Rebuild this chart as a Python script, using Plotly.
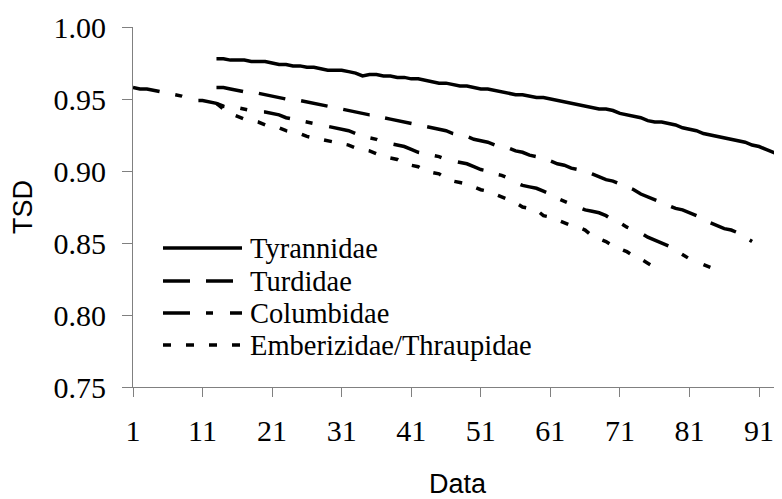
import plotly.graph_objects as go

# ---------------- data ----------------
tyr_x = list(range(13, 95))
tyr_y = [0.978, 0.978, 0.977, 0.977, 0.977, 0.976, 0.976, 0.976, 0.975, 0.974,
         0.974, 0.973, 0.973, 0.972, 0.972, 0.971, 0.970, 0.970, 0.970, 0.969,
         0.968, 0.966, 0.967, 0.967, 0.966, 0.966, 0.965, 0.965, 0.964, 0.964,
         0.963, 0.962, 0.961, 0.961, 0.960, 0.959, 0.959, 0.958, 0.957, 0.957,
         0.956, 0.955, 0.954, 0.953, 0.953, 0.952, 0.951, 0.951, 0.950, 0.949,
         0.948, 0.947, 0.946, 0.945, 0.944, 0.943, 0.943, 0.942, 0.940, 0.939,
         0.938, 0.937, 0.935, 0.934, 0.934, 0.933, 0.932, 0.930, 0.929, 0.928,
         0.926, 0.925, 0.924, 0.923, 0.922, 0.921, 0.920, 0.918, 0.917, 0.915,
         0.913, 0.911]

turd_x = list(range(13, 91))
turd_y = [0.958, 0.958, 0.957, 0.956, 0.955, 0.955, 0.954, 0.953, 0.952, 0.951,
          0.950, 0.950, 0.949, 0.948, 0.947, 0.946, 0.945, 0.944, 0.943, 0.942,
          0.941, 0.940, 0.939, 0.939, 0.937, 0.936, 0.935, 0.934, 0.933, 0.932,
          0.931, 0.930, 0.929, 0.928, 0.926, 0.925, 0.924, 0.922, 0.921, 0.920,
          0.918, 0.917, 0.916, 0.914, 0.913, 0.911, 0.910, 0.908, 0.907, 0.905,
          0.904, 0.902, 0.901, 0.900, 0.898, 0.896, 0.894, 0.893, 0.891, 0.889,
          0.887, 0.884, 0.882, 0.880, 0.878, 0.876, 0.874, 0.873, 0.871, 0.869,
          0.867, 0.864, 0.862, 0.860, 0.859, 0.857, 0.854, 0.851]

col_x = list(range(1, 85))
col_y = [0.958, 0.957, 0.957, 0.956, 0.955, 0.954, 0.953, 0.952, 0.950, 0.949,
         0.949, 0.948, 0.947, 0.945, 0.944, 0.944, 0.943, 0.942, 0.941, 0.941,
         0.940, 0.939, 0.937, 0.936, 0.935, 0.934, 0.933, 0.932, 0.931, 0.930,
         0.929, 0.928, 0.926, 0.924, 0.923, 0.922, 0.920, 0.919, 0.918, 0.917,
         0.915, 0.913, 0.912, 0.911, 0.910, 0.908, 0.907, 0.906, 0.905, 0.903,
         0.901, 0.900, 0.898, 0.897, 0.895, 0.892, 0.890, 0.889, 0.888, 0.886,
         0.884, 0.881, 0.879, 0.877, 0.875, 0.873, 0.872, 0.871, 0.869, 0.866,
         0.864, 0.861, 0.859, 0.857, 0.854, 0.852, 0.850, 0.848, 0.845, 0.842,
         0.839, 0.837, 0.835, 0.833]

emb_x = list(range(13, 77))
emb_y = [0.947, 0.943, 0.940, 0.938, 0.936, 0.935, 0.934, 0.932, 0.931, 0.930,
         0.928, 0.927, 0.926, 0.924, 0.923, 0.922, 0.921, 0.920, 0.919, 0.918,
         0.916, 0.915, 0.914, 0.912, 0.910, 0.909, 0.908, 0.905, 0.904, 0.903,
         0.900, 0.899, 0.898, 0.895, 0.893, 0.892, 0.891, 0.889, 0.887, 0.886,
         0.884, 0.882, 0.880, 0.878, 0.875, 0.874, 0.873, 0.869, 0.868, 0.866,
         0.864, 0.862, 0.861, 0.859, 0.855, 0.853, 0.851, 0.848, 0.846, 0.844,
         0.841, 0.839, 0.836, 0.833]

series_names = ["Tyrannidae", "Turdidae", "Columbidae", "Emberizidae/Thraupidae"]
series_dash = ["solid", "27px,16px", "27px,16px,7px,17px", "8px,15px"]

x_ticks = [1, 11, 21, 31, 41, 51, 61, 71, 81, 91]
y_ticks = [0.75, 0.80, 0.85, 0.90, 0.95, 1.00]

# ---------------- figure ----------------
# the page body has an 8px margin, so the figure is sized/offset to compensate
OFF = 8
WIN_W, WIN_H = 782, 499
W, H = WIN_W - OFF, WIN_H - OFF
# desired plot area in window pixels: x 133..782, y 27..387
ML, MR, MT, MB = 133 - OFF, 0, 27 - OFF, H - (387 - OFF)

fig = go.Figure()
for xs, ys, name, dash in zip([tyr_x, turd_x, col_x, emb_x],
                              [tyr_y, turd_y, col_y, emb_y],
                              series_names, series_dash):
    fig.add_trace(go.Scatter(x=xs, y=ys, mode="lines", name=name,
                             line=dict(color="black", width=3.5, dash=dash),
                             showlegend=False, hoverinfo="skip"))

# manual legend (long line samples like the original)
pw = W - ML - MR
ph = H - MT - MB
def px_to_paper(px, py):
    # px, py in window pixels
    return (px - OFF - ML) / pw, (H - MB - (py - OFF)) / ph

leg_rows_py = [248, 281, 313, 345]
for name, dash, py in zip(series_names, series_dash, leg_rows_py):
    x0, y0 = px_to_paper(163, py)
    x1, _ = px_to_paper(242, py)
    fig.add_shape(type="line", xref="paper", yref="paper", x0=x0, x1=x1, y0=y0, y1=y0,
                  line=dict(color="black", width=3.5, dash=dash))
    tx, ty = px_to_paper(248, py)
    fig.add_annotation(xref="paper", yref="paper", x=tx, y=ty, text=name,
                       showarrow=False, xanchor="left", yanchor="middle",
                       font=dict(family="Liberation Serif", size=28.5, color="black"))

axis_gray = "#808080"
fig.update_layout(
    width=W, height=H,
    margin=dict(l=ML, r=MR, t=MT, b=MB, pad=0),
    paper_bgcolor="white", plot_bgcolor="white",
    showlegend=False,
    xaxis=dict(range=[1, 94.3], tickvals=x_ticks, ticktext=[str(v) for v in x_ticks],
               automargin=False,
               showgrid=False, zeroline=False, showline=True, linecolor=axis_gray,
               linewidth=1, ticks="outside", ticklen=9, tickcolor=axis_gray, tickwidth=1,
               tickfont=dict(family="Liberation Serif", size=30, color="black"),
               ticklabelstandoff=8,
               title=dict(text="Data", standoff=31,
                          font=dict(family="Liberation Sans", size=27, color="black"))),
    yaxis=dict(range=[0.75, 1.0], tickvals=y_ticks, ticktext=["%.2f" % v for v in y_ticks],
               automargin=False,
               showgrid=False, zeroline=False, showline=True, linecolor=axis_gray,
               linewidth=1, ticks="outside", ticklen=10, tickcolor=axis_gray, tickwidth=1,
               tickfont=dict(family="Liberation Serif", size=30, color="black"),
               ticklabelstandoff=10,
               title=dict(text="TSD", standoff=18,
                          font=dict(family="Liberation Sans", size=27, color="black"))),
)

fig.write_html("out.html")
